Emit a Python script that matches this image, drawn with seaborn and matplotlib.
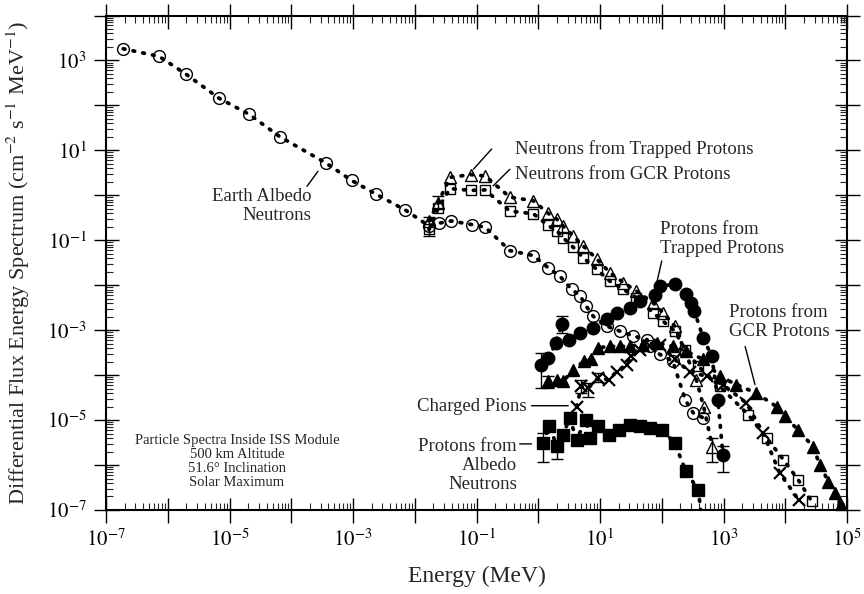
import numpy as np
import pandas as pd
import matplotlib
matplotlib.use('Agg')
import matplotlib.pyplot as plt
import seaborn as sns
from matplotlib.ticker import LogLocator, FuncFormatter, NullFormatter

# ---- data (log10 energy in MeV, log10 flux) ----
albedo_E = [-6.72, -6.14, -5.71, -5.17, -4.68, -4.18, -3.44, -3.02, -2.62, -2.15, -1.77,
            -1.61, -1.41, -1.08, -0.86, -0.46, -0.08, 0.16, 0.35, 0.54, 0.68, 0.78, 0.89,
            1.11, 1.32, 1.54, 1.76, 1.81, 1.97, 2.18, 2.38, 2.51, 2.67]
albedo_F = [3.26, 3.09, 2.70, 2.16, 1.80, 1.30, 0.72, 0.33, 0.02, -0.33, -0.68,
            -0.62, -0.57, -0.65, -0.71, -1.23, -1.34, -1.61, -1.80, -2.09, -2.24, -2.47, -2.69,
            -2.91, -3.02, -3.13, -3.21, -3.36, -3.54, -3.69, -4.55, -4.84, -4.95]

trapn_E = [-1.77, -1.62, -1.43, -1.09, -0.86, -0.46, -0.08, 0.16, 0.30, 0.40, 0.57, 0.73,
           0.95, 1.16, 1.38, 1.59, 1.86, 2.02, 2.21, 2.56, 2.68, 2.82]
trapn_F = [-0.57, -0.16, 0.40, 0.46, 0.43, -0.04, -0.12, -0.40, -0.53, -0.68, -0.91, -1.13,
           -1.42, -1.72, -1.94, -2.13, -2.39, -2.61, -2.91, -4.10, -4.71, -5.59]

gcrn_E = [-1.77, -1.62, -1.43, -1.09, -0.86, -0.46, -0.08, 0.16, 0.30, 0.40, 0.57, 0.73,
          0.95, 1.16, 1.38, 1.59, 1.86, 2.02, 2.21, 2.38, 2.59, 2.94, 3.40, 3.70, 3.97, 4.21, 4.43]
gcrn_F = [-0.76, -0.29, 0.15, 0.11, 0.12, -0.35, -0.41, -0.67, -0.79, -0.94, -1.16, -1.39,
          -1.65, -1.91, -2.09, -2.28, -2.61, -2.80, -3.02, -3.43, -3.80, -4.25, -4.88, -5.40,
          -5.88, -6.33, -6.81]

trapp_E = [0.05, 0.16, 0.29, 0.38, 0.50, 0.68, 0.89, 1.11, 1.27, 1.49, 1.65, 1.89, 1.97,
           2.21, 2.40, 2.48, 2.53, 2.67, 2.81, 2.91, 2.99]
trapp_F = [-3.77, -3.62, -3.28, -2.87, -3.21, -3.06, -2.95, -2.76, -2.61, -2.50, -2.35, -2.22,
           -2.02, -1.98, -2.20, -2.39, -2.58, -3.17, -3.58, -4.55, -5.77]

gcrp_E = [0.16, 0.30, 0.40, 0.57, 0.74, 0.86, 0.97, 1.16, 1.32, 1.49, 1.70, 1.92, 2.19, 2.40,
          2.67, 2.94, 3.21, 3.53, 3.86, 3.99, 4.21, 4.45, 4.56, 4.70, 4.80, 4.90]
gcrp_F = [-4.14, -4.10, -4.14, -3.88, -3.69, -3.65, -3.39, -3.36, -3.36, -3.36, -3.32, -3.28,
          -3.36, -3.47, -3.65, -4.03, -4.21, -4.40, -4.70, -4.92, -5.22, -5.59, -6.00, -6.37,
          -6.63, -6.89]

pion_E = [0.62, 0.70, 0.81, 0.97, 1.14, 1.27, 1.43, 1.51, 1.65, 1.81, 1.97, 2.21, 2.45, 2.73,
          2.99, 3.37, 3.64, 3.91, 4.22]
pion_F = [-4.70, -4.25, -4.29, -4.06, -4.10, -3.92, -3.77, -3.58, -3.43, -3.36, -3.32, -3.65,
          -3.92, -4.03, -4.21, -4.62, -5.28, -6.18, -6.78]

albp_E = [0.07, 0.18, 0.30, 0.40, 0.51, 0.62, 0.77, 0.84, 0.97, 1.14, 1.30, 1.49, 1.65, 1.81,
          2.00, 2.21, 2.39, 2.59, 2.66]
albp_F = [-5.50, -5.14, -5.57, -5.33, -4.95, -5.44, -4.99, -5.40, -5.14, -5.33, -5.21, -5.10,
          -5.14, -5.18, -5.21, -5.51, -6.14, -6.55, -7.30]

# error bars: log10 E, log10 F, lower and upper extent (dex)
err_E = [-1.77, -1.62, 0.05, 0.38, 0.16, 0.07, 0.18, 0.30, 0.70, 0.81, 0.97, 2.82, 2.99]
err_F = [-0.76, -0.16, -3.77, -2.87, -4.14, -5.50, -5.14, -5.57, -4.25, -4.29, -4.06, -5.59, -5.77]
err_lo = [0.15, 0.12, 0.51, 0.19, 0.15, 0.43, 0.10, 0.29, 0.15, 0.20, 0.10, 0.34, 0.38]
err_hi = [0.27, 0.14, 0.27, 0.19, 0.12, 0.22, 0.10, 0.10, 0.15, 0.12, 0.10, 0.19, 0.20]

sns.set_style('ticks')
plt.rcParams['font.family'] = ['Liberation Serif', 'DejaVu Serif']
plt.rcParams['mathtext.fontset'] = 'stix'

fig = plt.figure(figsize=(8.64, 5.94), dpi=100)
ax = fig.add_axes([106 / 864, 84 / 594, 741 / 864, 494.5 / 594])
ax.set_xscale('log')
ax.set_yscale('log')

dot_style = (0, (0.45, 2.2))


def draw(E, F, marker, ms, filled, mew=1.0):
    df = pd.DataFrame({'E': np.power(10.0, E), 'F': np.power(10.0, F)})
    sns.lineplot(data=df, x='E', y='F', ax=ax, sort=False, estimator=None,
                 color='black', linestyle=dot_style, linewidth=2.7,
                 dash_capstyle='round', marker=marker, markersize=ms,
                 markerfacecolor='black' if filled else 'none',
                 markeredgecolor='black', markeredgewidth=mew, clip_on=True)


draw(albedo_E, albedo_F, 'o', 8.5, False)
draw(gcrn_E, gcrn_F, 's', 7.5, False)
draw(trapn_E, trapn_F, '^', 8, False)
draw(trapp_E, trapp_F, 'o', 9, True)
draw(gcrp_E, gcrp_F, '^', 8, True)
draw(pion_E, pion_F, 'x', 8, False, mew=1.6)
draw(albp_E, albp_F, 's', 8, True)

eE = np.power(10.0, err_E)
eF = np.power(10.0, err_F)
lo = eF - np.power(10.0, np.array(err_F) - np.array(err_lo))
hi = np.power(10.0, np.array(err_F) + np.array(err_hi)) - eF
ax.errorbar(eE, eF, yerr=[lo, hi], fmt='none', ecolor='black', elinewidth=1.0,
            capsize=4, capthick=1.0)

ax.set_xlim(1e-7, 1e5)
ax.set_ylim(1e-7, 1e4)

for a in (ax.xaxis, ax.yaxis):
    a.set_major_locator(LogLocator(base=10, subs=(1.0,), numticks=40))
    a.set_minor_locator(LogLocator(base=10, subs=np.arange(2, 10), numticks=40))
    a.set_minor_formatter(NullFormatter())


def fmt(v, pos):
    k = int(round(np.log10(v)))
    return r'$10^{%d}$' % k if k % 2 != 0 else ''


ax.xaxis.set_major_formatter(FuncFormatter(fmt))
ax.yaxis.set_major_formatter(FuncFormatter(fmt))
ax.tick_params(which='major', direction='inout', length=18, width=1.0,
               top=True, right=True, labelsize=15, pad=5, colors='black')
ax.tick_params(which='minor', direction='in', length=5, width=0.8,
               top=True, right=True)
for s in ax.spines.values():
    s.set_linewidth(1.5)
    s.set_color('black')

ax.set_xlabel('Energy (MeV)', fontsize=17)
ax.set_ylabel(r'Differential Flux Energy Spectrum (cm$^{-2}$ s$^{-1}$ MeV$^{-1}$)', fontsize=16)
ax.xaxis.set_label_coords(0.5, -0.113)
ax.yaxis.set_label_coords(-0.1, 0.5)

ann = 13.5
ax.text(10**-0.377, 10**1.03, 'Neutrons from Trapped Protons', fontsize=ann, va='center', ha='left')
ax.text(10**-0.377, 10**0.47, 'Neutrons from GCR Protons', fontsize=ann, va='center', ha='left')
ax.text(10**-3.68, 10**-0.243, 'Earth Albedo\nNeutrons', fontsize=ann, va='center', ha='right',
        multialignment='right', linespacing=1.15)
ax.text(10**1.97, 10**-0.968, 'Protons from\nTrapped Protons', fontsize=ann, va='center',
        ha='left', linespacing=1.15)
ax.text(10**3.09, 10**-2.81, 'Protons from\nGCR Protons', fontsize=ann, va='center',
        ha='left', linespacing=1.15)
ax.text(10**-0.19, 10**-4.70, 'Charged Pions', fontsize=ann, va='center', ha='right')
ax.text(10**-0.344, 10**-6.01, 'Protons from\nAlbedo\nNeutrons', fontsize=ann, va='center',
        ha='right', multialignment='right', linespacing=1.15)
ax.text(10**-4.88, 10**-5.93,
        'Particle Spectra Inside ISS Module\n500 km Altitude\n51.6\u00b0 Inclination\nSolar Maximum',
        fontsize=10.5, va='center', ha='center', multialignment='center', linespacing=1.1)

leaders = [((-0.755, 1.03), (-1.05, 0.58)),
           ((-0.46, 0.58), (-0.73, 0.21)),
           ((-3.745, 0.20), (-3.567, 0.535)),
           ((2.0, -1.46), (1.92, -1.94)),
           ((3.35, -3.36), (3.51, -4.21)),
           ((-0.11, -4.68), (0.485, -4.68)),
           ((-0.30, -5.53), (-0.11, -5.53))]
for (x0, y0), (x1, y1) in leaders:
    ax.annotate('', xy=(10**x1, 10**y1), xytext=(10**x0, 10**y0),
                arrowprops=dict(arrowstyle='-', color='black', lw=1.0,
                                shrinkA=0, shrinkB=0))

fig.savefig('out.png', dpi=100)
